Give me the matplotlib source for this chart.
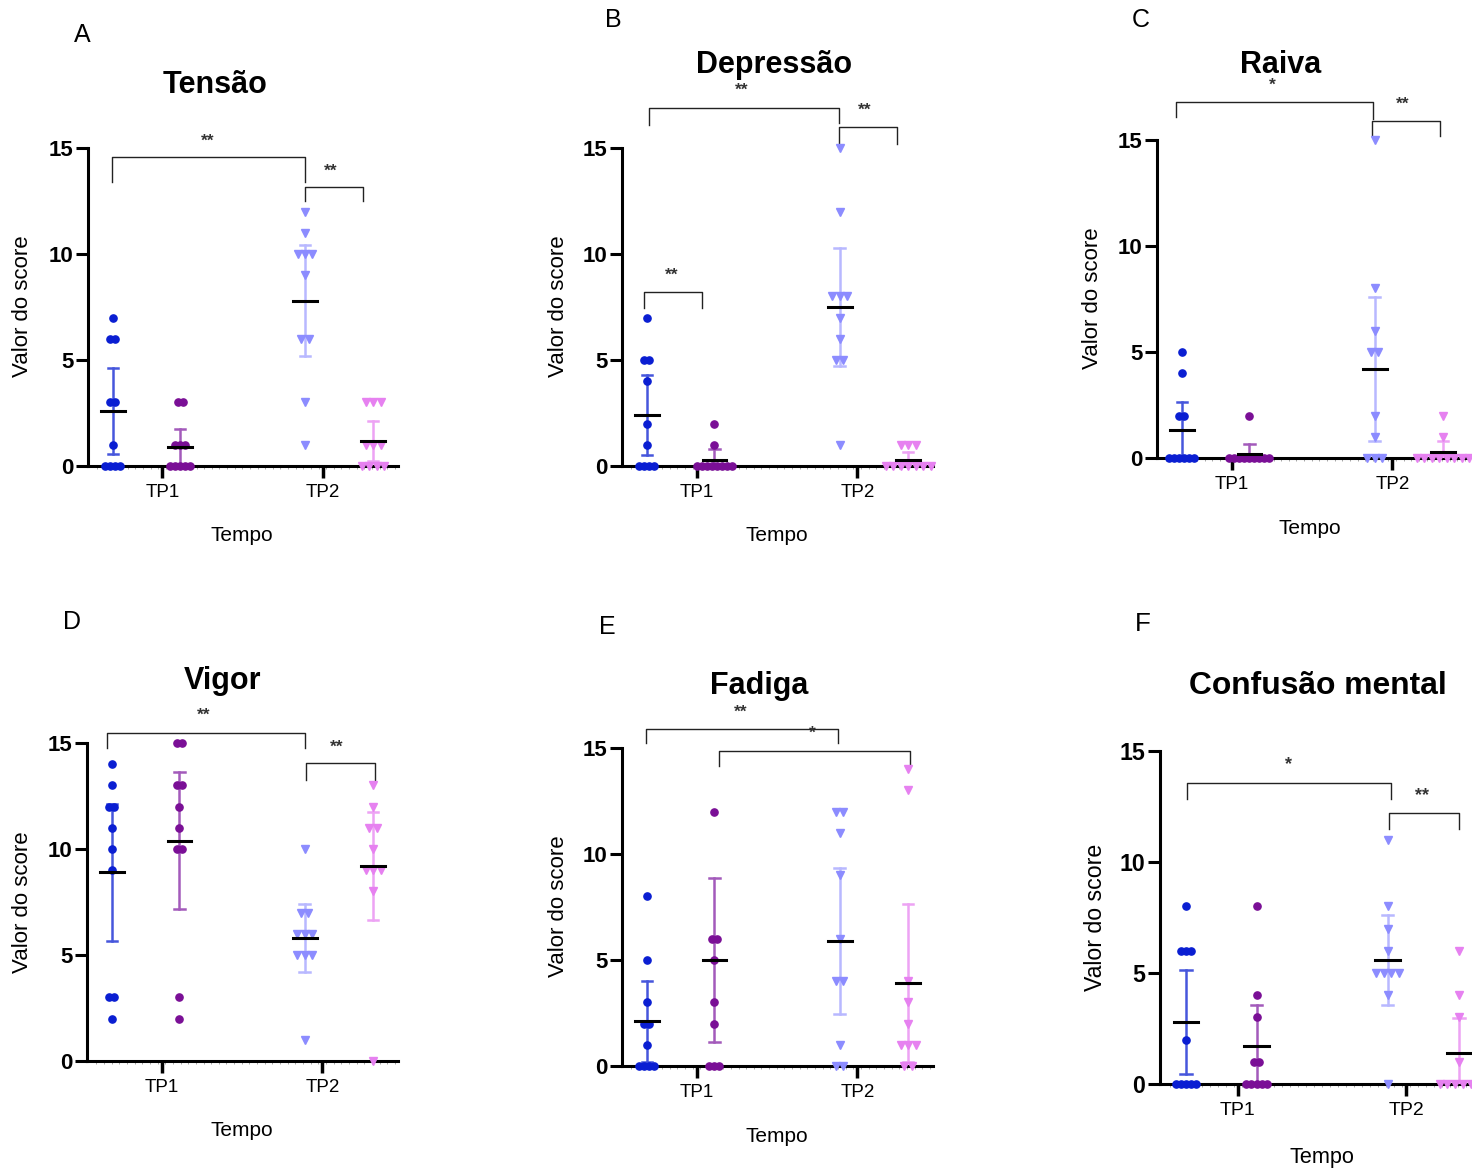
import numpy as np
import matplotlib.pyplot as plt

plt.rcParams['font.family'] = ['Liberation Sans', 'DejaVu Sans']

W, H = 1472, 1172

# scores per group: [TP1 grupo 1, TP1 grupo 2, TP2 grupo 1, TP2 grupo 2]
tensao = [[7, 6, 6, 3, 3, 1, 0, 0, 0, 0],
          [3, 3, 1, 1, 1, 0, 0, 0, 0, 0],
          [12, 11, 10, 10, 10, 9, 6, 6, 3, 1],
          [3, 3, 3, 1, 1, 1, 0, 0, 0, 0]]
depressao = [[7, 5, 5, 4, 2, 1, 0, 0, 0, 0],
             [2, 1, 0, 0, 0, 0, 0, 0, 0, 0],
             [15, 12, 8, 8, 8, 7, 6, 5, 5, 1],
             [1, 1, 1, 0, 0, 0, 0, 0, 0, 0]]
raiva = [[5, 4, 2, 2, 0, 0, 0, 0, 0, 0],
         [2, 0, 0, 0, 0, 0, 0, 0, 0, 0],
         [15, 8, 6, 5, 5, 2, 1, 0, 0, 0],
         [2, 1, 0, 0, 0, 0, 0, 0, 0, 0]]
vigor = [[14, 13, 12, 12, 11, 10, 9, 3, 3, 2],
         [15, 15, 13, 13, 12, 11, 10, 10, 3, 2],
         [10, 7, 7, 6, 6, 6, 5, 5, 5, 1],
         [13, 12, 11, 11, 10, 9, 9, 9, 8, 0]]
fadiga = [[8, 5, 3, 2, 2, 1, 0, 0, 0, 0],
          [16, 12, 6, 6, 5, 3, 2, 0, 0, 0],   # 16 lies above the axis and is not shown
          [12, 12, 11, 9, 6, 4, 4, 1, 0, 0],
          [14, 13, 4, 3, 2, 1, 1, 1, 0, 0]]
confusao = [[8, 6, 6, 6, 2, 0, 0, 0, 0, 0],
            [8, 4, 3, 1, 1, 0, 0, 0, 0, 0],
            [11, 8, 7, 6, 5, 5, 5, 5, 4, 0],
            [6, 4, 3, 1, 0, 0, 0, 0, 0, 0]]

tick_labels = ["TP1", "TP2"]
yticks = [0, 5, 10, 15]

# significance brackets: x1, x2 (axes fraction), bar y, leg1 y, leg2 y, label, text x, text y
br_a = [(0.077, 0.700, 14.58, 13.4, 13.4, "**", 0.387, 15.3),
        (0.700, 0.887, 13.16, 12.5, 12.5, "**", 0.784, 13.9)]
br_b = [(0.087, 0.698, 16.87, 16.1, 16.17, "**", 0.386, 17.7),
        (0.698, 0.884, 15.97, 15.2, 15.2, "**", 0.781, 16.8),
        (0.071, 0.257, 8.2, 7.44, 7.44, "**", 0.160, 9.0)]
br_c = [(0.061, 0.695, 16.8, 16.1, 16.0, "*", 0.370, 17.6),
        (0.691, 0.910, 15.9, 15.2, 15.2, "**", 0.791, 16.7)]
br_d = [(0.064, 0.700, 15.46, 14.75, 14.75, "**", 0.376, 16.3),
        (0.705, 0.926, 14.04, 13.25, 13.25, "**", 0.804, 14.8)]
br_e = [(0.077, 0.696, 15.91, 15.22, 15.22, "**", 0.383, 16.7),
        (0.312, 0.926, 14.86, 14.17, 14.17, "*", 0.613, 15.7)]
br_f = [(0.084, 0.710, 13.57, 12.82, 12.82, "*", 0.395, 14.37),
        (0.705, 0.921, 12.22, 11.47, 11.47, "**", 0.805, 12.97)]

# panel layout in pixels: letter, title, data, brackets,
# axis box (left, y of 15, y of 0, width), letter xy, title xy, ylabel xy, Tempo xy, font scale
panels = [
    ("A", "Tensão", tensao, br_a, (88, 148, 466, 310), (82, 35), (215, 85), (23, 306), (242, 535), 1.0),
    ("B", "Depressão", depressao, br_b, (622, 148, 466, 311), (613, 20), (774, 65), (558, 306), (777, 535), 1.0),
    ("C", "Raiva", raiva, br_c, (1157, 140, 458, 311), (1141, 20), (1281, 65), (1092, 298), (1310, 528), 1.0),
    ("D", "Vigor", vigor, br_d, (87, 743, 1061, 311), (72, 622), (223, 681), (23, 902), (242, 1131), 1.0),
    ("E", "Fadiga", fadiga, br_e, (622, 748, 1066, 311), (607, 627), (759, 686), (558, 906), (777, 1136), 1.0),
    ("F", "Confusão mental", confusao, br_f, (1160, 751, 1084, 325), (1143, 624), (1318, 686), (1095, 917), (1322, 1158), 1.04),
]

xpos = [0.08, 0.297, 0.70, 0.92]
xtick_pos = [0.24, 0.757]
markers = ['o', 'o', 'v', 'v']
colors = ['#0a1ed2', '#7a0f96', '#8c8cff', '#e681f0']
bar_colors = ['#4656dc', '#a35abb', '#b8b8ff', '#eda3f4']
T_CRIT = 2.262  # t(0.975, df=9)


def fx(x):
    return x / W


def fy(y):
    return 1 - y / H


fig = plt.figure(figsize=(W / 100, H / 100), dpi=100)

for letter, title, data, brackets, box, lxy, txy, yxy, exy, sc in panels:
    left, ytop, ybot, width = box
    ax = fig.add_axes([fx(left), fy(ybot), width / W, (ybot - ytop) / H])
    ax.set_xlim(0, 1)
    ax.set_ylim(0, 15)

    for i, vals in enumerate(data):
        vals = np.array(vals, dtype=float)
        m = vals.mean()
        ci = T_CRIT * vals.std(ddof=1) / np.sqrt(len(vals))
        lo, hi = m - ci, m + ci
        x = xpos[i]
        # points, equal values spread side by side
        step = 0.016 if markers[i] == 'o' else 0.024
        shown = vals[vals <= 15]
        xs, ys = [], []
        for v in np.unique(shown):
            k = int((shown == v).sum())
            offs = (np.arange(k) - (k - 1) / 2) * step
            xs.extend(x + offs)
            ys.extend([v] * k)
        ax.plot(xs, ys, linestyle='none', marker=markers[i], color=colors[i],
                markersize=5.2 if markers[i] == 'o' else 6, clip_on=False, zorder=5)
        # 95% CI error bar
        ax.plot([x, x], [max(lo, 0), hi], color=bar_colors[i], lw=1.8, zorder=4)
        ax.plot([x - 0.017, x + 0.017], [hi, hi], color=bar_colors[i], lw=1.8, zorder=4)
        if lo > 0:
            ax.plot([x - 0.017, x + 0.017], [lo, lo], color=bar_colors[i], lw=1.8, zorder=4)
        # mean
        ax.plot([x - 0.038, x + 0.038], [m, m], color='black', lw=2.2, zorder=6)

    for x1, x2, yb, y1, y2, lab, xt, yt in brackets:
        ax.plot([x1, x1, x2, x2], [y1, yb, yb, y2], color='#222222', lw=1.0,
                clip_on=False, zorder=3)
        ax.text(xt, yt, lab, ha='center', va='center', fontsize=12.5 * sc,
                fontweight='bold', color='#333333', clip_on=False)

    for s in ['top', 'right']:
        ax.spines[s].set_visible(False)
    for s in ['left', 'bottom']:
        ax.spines[s].set_linewidth(2.2)
    ax.set_yticks(yticks)
    ax.set_yticklabels([str(t) for t in yticks], fontsize=16 * sc, fontweight='bold')
    ax.set_xticks(xtick_pos)
    ax.set_xticklabels(tick_labels, fontsize=13.5 * sc)
    ax.set_xticks(np.linspace(0.03, 0.99, 40), minor=True)
    ax.tick_params(axis='y', length=8.5, width=2.2, pad=2)
    ax.tick_params(axis='x', which='major', length=8.5, width=2.5, pad=4.5)
    ax.tick_params(axis='x', which='minor', length=2.5, width=0.6, color='#999999')
    ax.patch.set_alpha(0)

    fig.text(fx(lxy[0]), fy(lxy[1]), letter, fontsize=18 * sc, ha='center', va='center')
    fig.text(fx(txy[0]), fy(txy[1]), title, fontsize=22 * sc, fontweight='bold',
             ha='center', va='center')
    fig.text(fx(yxy[0]), fy(yxy[1]), "Valor do score", fontsize=16 * sc, rotation=90,
             ha='center', va='center')
    fig.text(fx(exy[0]), fy(exy[1]), "Tempo", fontsize=15 * sc, ha='center', va='center')

fig.savefig("out.png", dpi=100)
